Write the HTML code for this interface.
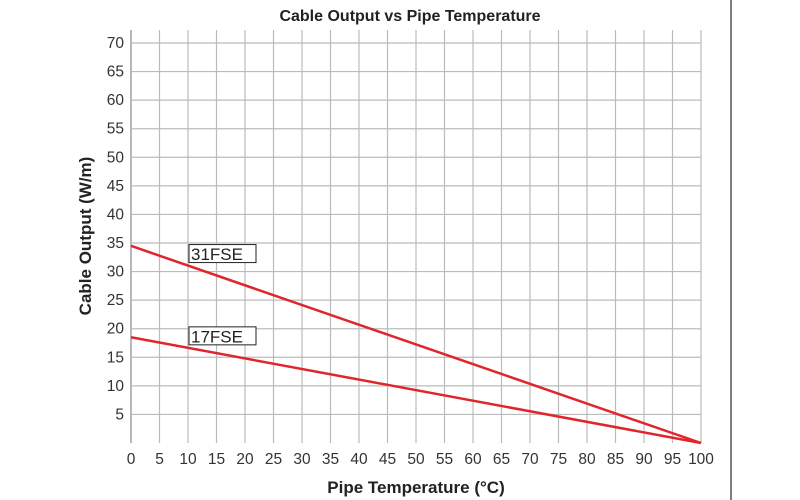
<!DOCTYPE html>
<html><head><meta charset="utf-8"><style>
body{margin:0;background:#fff;}
svg{display:block;font-family:"Liberation Sans",sans-serif;}
</style></head><body>
<svg width="800" height="500">
<g id="grid"></g>
<g id="lines"></g>
<g id="labels"></g>
<line x1="731" y1="0" x2="731" y2="500" stroke="#555" stroke-width="1.5"/>
<text x="410" y="21" text-anchor="middle" font-size="16" font-weight="bold" fill="#222">Cable Output vs Pipe Temperature</text>
<text x="416" y="493" text-anchor="middle" font-size="17" font-weight="bold" fill="#222">Pipe Temperature (°C)</text>
<text transform="translate(91,236) rotate(-90)" text-anchor="middle" font-size="17" font-weight="bold" fill="#222">Cable Output (W/m)</text>
</svg>
<script>
const xTicks=[0,5,10,15,20,25,30,35,40,45,50,55,60,65,70,75,80,85,90,95,100];
const yTicks=[5,10,15,20,25,30,35,40,45,50,55,60,65,70];
const seriesNames=["31FSE","17FSE"];
const temps=[0,100];
const out31=[34.5,0];
const out17=[18.5,0];
const ns="http://www.w3.org/2000/svg";
const X=v=>131+v*5.7, Y=v=>443-v*400/70;
function mk(p,t,a){const e=document.createElementNS(ns,t);for(const k in a)e.setAttribute(k,a[k]);p.appendChild(e);return e;}
const g=document.getElementById('grid'),L=document.getElementById('lines'),lb=document.getElementById('labels');
xTicks.forEach(v=>{
 const l=mk(g,'line',{x1:X(v),x2:X(v),y1:30,y2:443,stroke:v===0?'#888':'#bbb','stroke-width':1.2});
 
 
 const t=mk(lb,'text',{x:X(v),y:464,'text-anchor':'middle','font-size':15.5,fill:'#333'});t.textContent=v;
 
 
});
yTicks.forEach(v=>{
 const l=mk(g,'line',{x1:131,x2:701,y1:Y(v),y2:Y(v),stroke:'#bbb','stroke-width':1.2});
 
 
 const t=mk(lb,'text',{x:124,y:Y(v)+5,'text-anchor':'end','font-size':15.5,fill:'#333'});t.textContent=v;
 
 
});
[[out31,"31FSE",10],[out17,"17FSE",10]].forEach(([d,n,lx])=>{
 const pts=temps.map((t,i)=>X(t)+','+Y(d[i])).join(' ');
 const p=mk(L,'polyline',{points:pts,fill:'none',stroke:'#e0262b','stroke-width':2.5});
 
 
 const yv=d[0]+(d[1]-d[0])*lx/100;
 const by=Y(yv)-21;
 const r=mk(lb,'rect',{x:X(lx)+1,y:by,width:67,height:18,fill:'#fff',stroke:'#222','stroke-width':1});
 
 
 const tx=mk(lb,'text',{x:X(lx)+3,y:by+15.5,'font-size':17,fill:'#222'});tx.textContent=n;
 
 
});
</script>
</body></html>
